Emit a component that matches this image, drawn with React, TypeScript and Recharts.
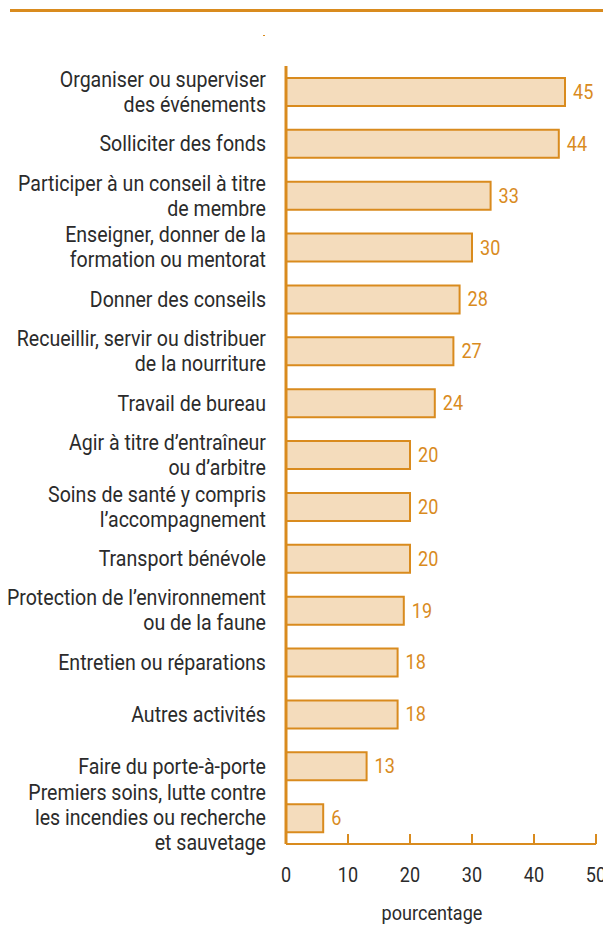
import { BarChart, Bar, XAxis, YAxis, LabelList } from 'recharts';

// Activity categories (line breaks as in the source)
const categories = [
  'Organiser ou superviser\ndes événements',
  'Solliciter des fonds',
  'Participer à un conseil à titre\nde membre',
  'Enseigner, donner de la\nformation ou mentorat',
  'Donner des conseils',
  'Recueillir, servir ou distribuer\nde la nourriture',
  'Travail de bureau',
  'Agir à titre d’entraîneur\nou d’arbitre',
  'Soins de santé y compris\nl’accompagnement',
  'Transport bénévole',
  'Protection de l’environnement\nou de la faune',
  'Entretien ou réparations',
  'Autres activités',
  'Faire du porte-à-porte',
  'Premiers soins, lutte contre\nles incendies ou recherche\net sauvetage',
];

// Percentage of volunteers
const values = [45, 44, 33, 30, 28, 27, 24, 20, 20, 20, 19, 18, 18, 13, 6];

const xTicks = [0, 10, 20, 30, 40, 50];

const data = categories.map((name, i) => ({ name, value: values[i] }));

const ORANGE = '#D98B1E';
const FILL = '#F4DCBC';
const TEXT = '#2b2b2b';
const FONT = 'Roboto, sans-serif';

// squeeze text horizontally to mimic the condensed face
const squeeze = (x: number, s = 0.86) => `translate(${x},0) scale(${s},1) translate(${-x},0)`;

const CategoryTick = (props: any) => {
  const { x, y, payload } = props;
  const lines = String(payload.value).split('\n');
  const lh = 25;
  const start = y - ((lines.length - 1) * lh) / 2;
  return (
    <text
      x={x}
      y={start}
      textAnchor="end"
      fill={TEXT}
      fontSize={22}
      fontFamily={FONT}
      dominantBaseline="central"
      transform={squeeze(x, 0.89)}
    >
      {lines.map((l, i) => (
        <tspan key={i} x={x} y={start + i * lh}>
          {l}
        </tspan>
      ))}
    </text>
  );
};

const ValueTick = (props: any) => {
  const { x, y, payload } = props;
  return (
    <text
      x={x}
      y={y + 38}
      textAnchor="middle"
      fill={TEXT}
      fontSize={21}
      fontFamily={FONT}
      transform={squeeze(x)}
    >
      {payload.value}
    </text>
  );
};

const BarValue = (props: any) => {
  const { x, y, width, height, value } = props;
  const lx = x + width + 8;
  return (
    <text
      x={lx}
      y={y + height / 2}
      fill={ORANGE}
      fontSize={21}
      fontFamily={FONT}
      dominantBaseline="central"
      transform={squeeze(lx)}
    >
      {value}
    </text>
  );
};

const AxisTitle = (props: any) => {
  const { viewBox } = props;
  const cx = viewBox.x + viewBox.width / 2 - 9;
  return (
    <text
      x={cx}
      y={viewBox.y + 76}
      textAnchor="middle"
      fill={TEXT}
      fontSize={21}
      fontFamily={FONT}
      transform={squeeze(cx)}
    >
      pourcentage
    </text>
  );
};

// chart laid out in page pixels (wrapper shifted over the body margin)
export default function App() {
  return (
    <div style={{ position: 'relative', left: -8, top: -8, width: 611, height: 940 }}>
      <style>{'html, body { overflow: hidden; } .recharts-surface { overflow: visible; }'}</style>
      {/* top rule */}
      <div style={{ position: 'absolute', left: 10, top: 9, width: 594, height: 3, background: ORANGE }} />
      <div style={{ position: 'absolute', left: 263, top: 35, width: 2, height: 1, background: ORANGE }} />
      <BarChart
        width={611}
        height={940}
        data={data}
        layout="vertical"
        margin={{ top: 66, right: 15, bottom: 36, left: 0 }}
        barCategoryGap={12}
      >
        <XAxis
          type="number"
          domain={[0, 50]}
          ticks={xTicks}
          axisLine={{ stroke: ORANGE, strokeWidth: 2 }}
          tickLine={{ stroke: ORANGE, strokeWidth: 2 }}
          tickSize={-10}
          tickMargin={10}
          tick={<ValueTick />}
          height={60}
          label={<AxisTitle />}
        />
        <YAxis
          type="category"
          dataKey="name"
          width={286}
          axisLine={{ stroke: ORANGE, strokeWidth: 3 }}
          tickLine={false}
          tickSize={0}
          tickMargin={20}
          tick={<CategoryTick />}
          interval={0}
        />
        <Bar dataKey="value" fill={FILL} stroke={ORANGE} strokeWidth={2} barSize={28} isAnimationActive={false}>
          <LabelList dataKey="value" content={<BarValue />} />
        </Bar>
      </BarChart>
    </div>
  );
}
